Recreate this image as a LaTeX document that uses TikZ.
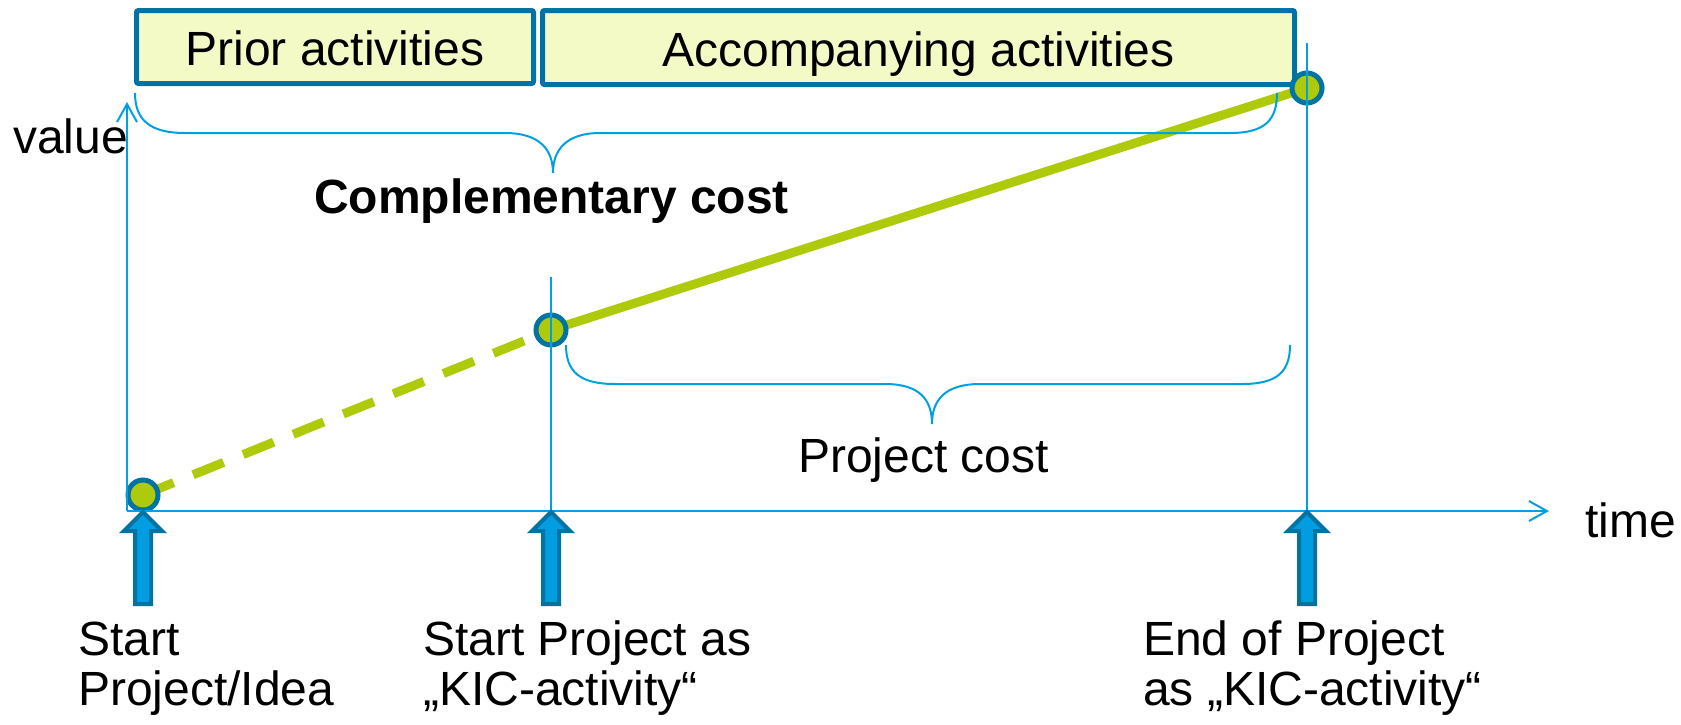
\documentclass[tikz,border=0pt]{standalone}
\usepackage{fontspec}
\setmainfont{Liberation Sans}
\usetikzlibrary{arrows.meta}
\definecolor{axisblue}{RGB}{0,160,227}
\definecolor{darkteal}{RGB}{0,114,163}
\definecolor{boxfill}{RGB}{243,250,198}
\definecolor{kicgreen}{RGB}{175,202,11}
\definecolor{arrowfill}{RGB}{0,157,224}
\tikzset{
  txt/.style={font=\fontsize{48}{50}\selectfont, inner sep=0pt, text=black},
  topbox/.style={draw=darkteal, line width=5pt, fill=boxfill, rounded corners=2pt,
     font=\fontsize{48}{52}\selectfont, text height=40pt, text depth=3pt, inner sep=0pt},
  thinline/.style={draw=axisblue, line width=2pt},
  axisline/.style={thinline, -{Straight Barb[length=18pt,width=20pt]}},
  bracestyle/.style={draw=axisblue, line width=2pt},
  valueline/.style={draw=kicgreen, line width=9pt},
  dot/.style={circle, draw=darkteal, fill=kicgreen, line width=5pt, minimum size=30pt, inner sep=0pt},
  blockarrow/.style={draw=darkteal, fill=arrowfill, line width=4pt, line join=miter},
  uparrow/.pic={\path[blockarrow] (0,0) -- (19,19) -- (8,19) -- (8,92) -- (-8,92) -- (-8,19) -- (-19,19) -- cycle;}
}
\begin{document}
\begin{tikzpicture}[x=1pt,y=-1pt]
\useasboundingbox (0,0) rectangle (1681,724);

% top boxes
\node[topbox, minimum width=397pt, minimum height=73pt] (prior) at (335,47) {Prior activities};
\node[topbox, minimum width=752pt, minimum height=74pt] (accomp) at (918.5,47.5) {Accompanying activities};

% key coordinates
\coordinate (O) at (127,511);
\coordinate (ytop) at (127,102);
\coordinate (xend) at (1549,511);
\coordinate (S) at (143,495);
\coordinate (M) at (551,330);
\coordinate (E) at (1307,88);
\coordinate (mtop) at (551,277);
\coordinate (mbot) at (551,511);
\coordinate (etop) at (1307,43);
\coordinate (ebot) at (1307,511);

% value line
\draw[valueline, dash pattern=on 33pt off 21pt] (S) -- (M);
\draw[valueline] (M) -- (E);

% circles
\node[dot] (s) at (S) {};
\node[dot] (m) at (M) {};
\node[dot] (e) at (E) {};

% vertical markers
\draw[thinline] (mtop) -- (mbot);
\draw[thinline] (etop) -- (ebot);

% axes
\draw[axisline] (O) -- (ytop);
\draw[axisline] (O) -- (xend);

% braces
\draw[bracestyle] (135,93) .. controls (135,120) and (150,133) .. (185,133) -- (505,133)
   .. controls (540,133) and (553,150) .. (553,173)
   .. controls (553,150) and (566,133) .. (600,133) -- (1230,133)
   .. controls (1265,133) and (1277,120) .. (1277,93);
\draw[bracestyle] (566,345) .. controls (566,372) and (580,384) .. (615,384) -- (885,384)
   .. controls (920,384) and (932,400) .. (932,424)
   .. controls (932,400) and (945,384) .. (980,384) -- (1242,384)
   .. controls (1277,384) and (1290,372) .. (1290,345);

% block arrows
\pic at (143,512) {uparrow};
\pic at (551,512) {uparrow};
\pic at (1307,512) {uparrow};

% texts
\node[txt, anchor=base west] (value) at (13,153) {value};
\node[txt, anchor=base west] (time) at (1585,537) {time};
\node[txt, anchor=base west, font=\fontsize{48}{52}\selectfont\bfseries] (comp) at (314,213) {Complementary cost};
\node[txt, anchor=base west] (proj) at (798,472) {Project cost};
\node[txt, anchor=base west, align=left] (l1) at (78,705) {Start\\Project/Idea};
\node[txt, anchor=base west, align=left] (l2) at (423,705) {Start Project as\\„KIC-activity“};
\node[txt, anchor=base west, align=left] (l3) at (1143,705) {End of Project\\as „KIC-activity“};
\end{tikzpicture}
\end{document}
